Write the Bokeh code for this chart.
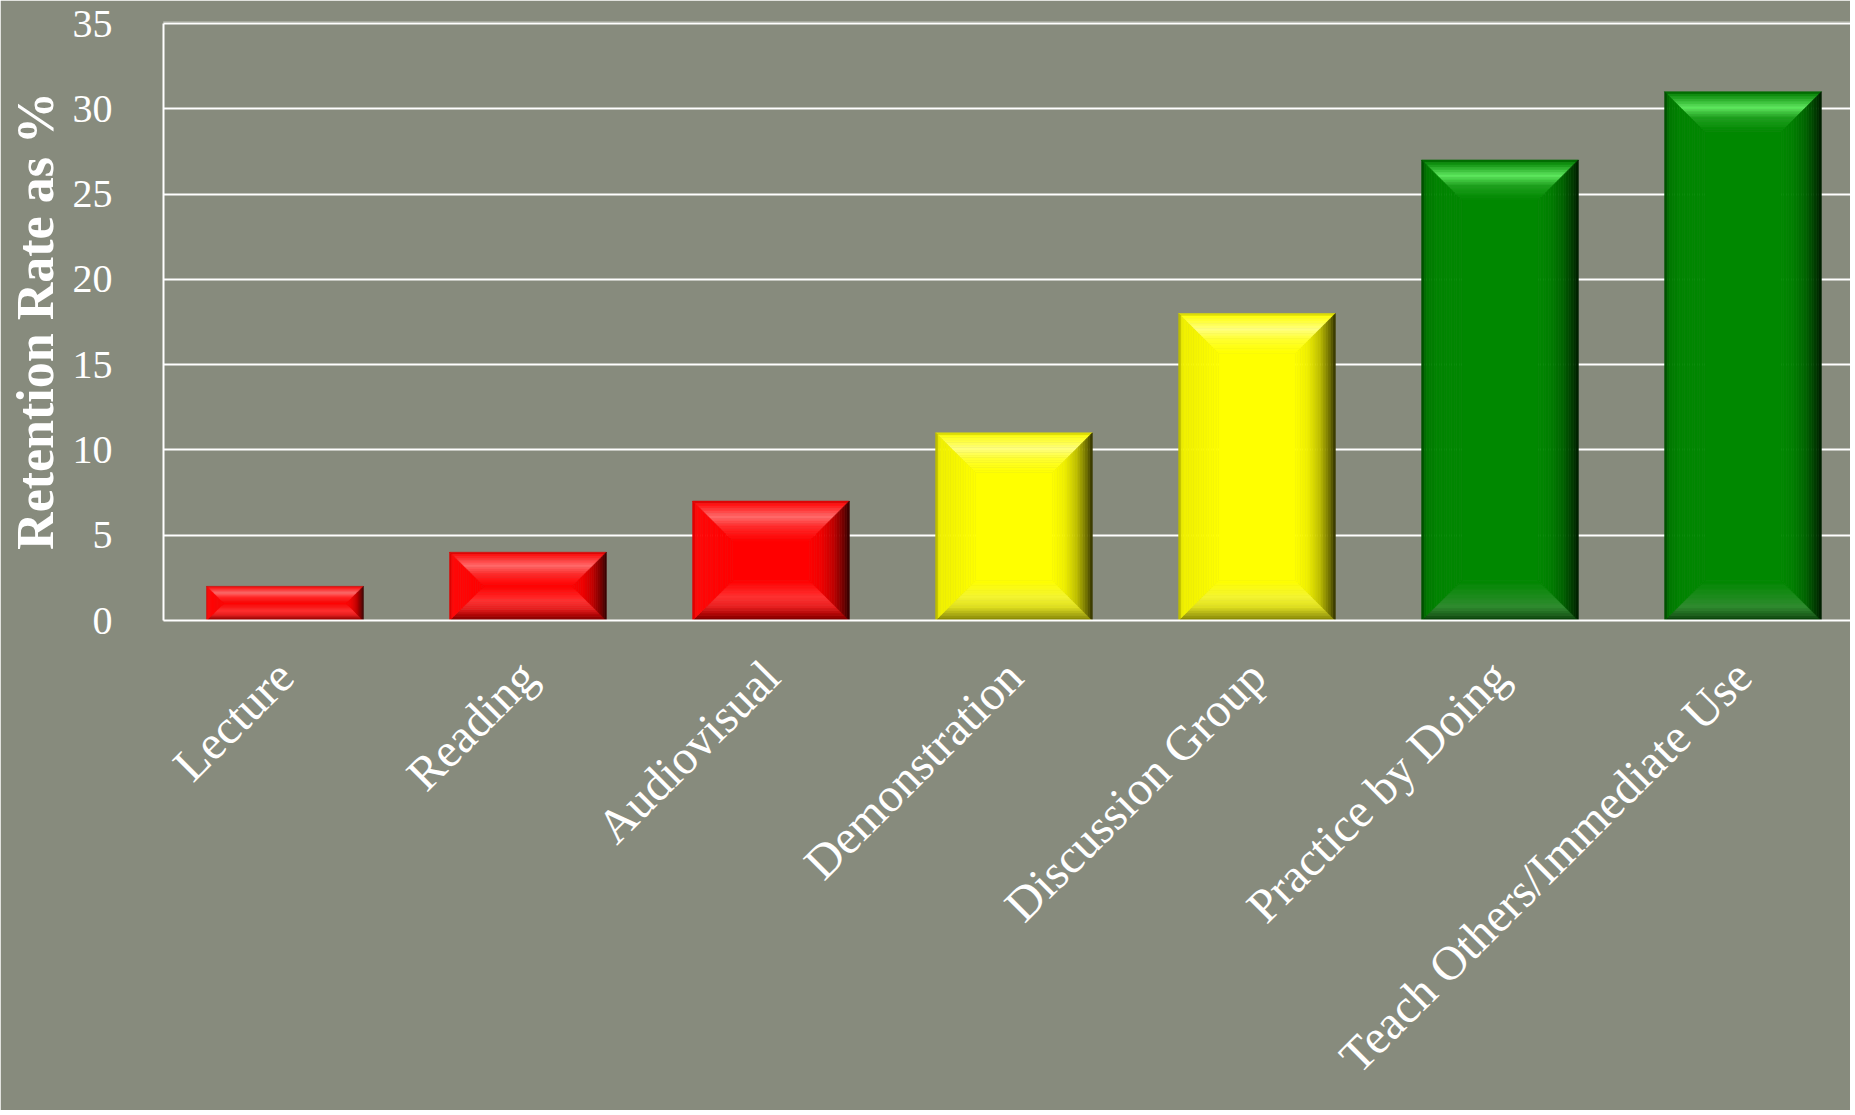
from bokeh.plotting import figure
from bokeh.models import Range1d, FixedTicker
from bokeh.embed import file_html
from bokeh.resources import INLINE
import math

# ---------------- data ----------------
categories = ["Lecture", "Reading", "Audiovisual", "Demonstration",
              "Discussion Group", "Practice by Doing", "Teach Others/Immediate Use"]
retention = [2, 4, 7, 11, 18, 27, 31]
tiers = ["red", "red", "red", "yellow", "yellow", "green", "green"]
y_ticks = [0, 5, 10, 15, 20, 25, 30, 35]
y_title = "Retention Rate as %"

# ---------------- styling / layout ----------------
BG = "#878b7d"
FONT = "Liberation Serif"
W, H = 1850, 1110
LEFT, TOP = 163, 21
FRAME_H = 599
BOTTOM = H - TOP - FRAME_H
frame_w = W - LEFT
SLOT = 243.0                     # px per category
PX_UNIT = 597.0 / 35.0           # px per percent
x_end = frame_w / SLOT
y_end = FRAME_H / PX_UNIT
BAR_W = 0.645
BEVEL = 40.0
NB = 16                          # gradient bands per bevel side

PALETTES = {
    "red": {
        "face": "#ff0000",
        "top": [(0, "#c80000"), (.08, "#ff1010"), (.4, "#ff6a6a"), (.65, "#ff2a2a"), (1, "#ff0000")],
        "bottom": [(0, "#700000"), (.12, "#a00000"), (.35, "#e82020"), (.6, "#ff3030"), (1, "#ff0000")],
        "left": [(0, "#d00000"), (.1, "#ff0808"), (1, "#ff0000")],
        "right": [(0, "#300000"), (.15, "#700000"), (.4, "#c00000"), (.7, "#f00000"), (1, "#ff0000")],
    },
    "yellow": {
        "face": "#ffff00",
        "top": [(0, "#c8c800"), (.08, "#ffff10"), (.4, "#ffff80"), (.65, "#ffff30"), (1, "#ffff00")],
        "bottom": [(0, "#808000"), (.12, "#a0a010"), (.35, "#e0e020"), (.6, "#f4f430"), (1, "#ffff00")],
        "left": [(0, "#a8a800"), (.1, "#f0f000"), (1, "#ffff00")],
        "right": [(0, "#303000"), (.15, "#707000"), (.4, "#c0c000"), (.7, "#f0f000"), (1, "#ffff00")],
    },
    "green": {
        "face": "#008800",
        "top": [(0, "#005a00"), (.08, "#0a8a0a"), (.4, "#5ee85e"), (.65, "#1ea01e"), (1, "#008800")],
        "bottom": [(0, "#003800"), (.12, "#1a5a1a"), (.35, "#2f8a2f"), (.6, "#1c8a1c"), (1, "#008800")],
        "left": [(0, "#004400"), (.12, "#007800"), (.4, "#008400"), (1, "#008800")],
        "right": [(0, "#001c00"), (.15, "#003a00"), (.4, "#006400"), (.7, "#007e00"), (1, "#008800")],
    },
}


def _rgb(h):
    return tuple(int(h[k:k + 2], 16) for k in (1, 3, 5))


def grad(stops, t):
    for (t0, c0), (t1, c1) in zip(stops[:-1], stops[1:]):
        if t <= t1:
            f = 0 if t1 == t0 else (t - t0) / (t1 - t0)
            a, b = _rgb(c0), _rgb(c1)
            return "#%02x%02x%02x" % tuple(round(a[k] + (b[k] - a[k]) * f) for k in range(3))
    return stops[-1][1]


p = figure(width=W, height=H,
           x_range=Range1d(0, x_end), y_range=Range1d(0, y_end),
           output_backend="svg", toolbar_location=None,
           min_border_left=LEFT, min_border_right=0,
           min_border_top=TOP, min_border_bottom=BOTTOM,
           background_fill_color=BG, border_fill_color=BG,
           outline_line_color=None)

# ---------------- bevelled bars ----------------
xs, ys, cols = [], [], []
for i, (v, tier) in enumerate(zip(retention, tiers)):
    pal = PALETTES[tier]
    c = i + 0.5
    hw = BAR_W / 2
    x0, x1, y0, y1 = c - hw, c + hw, 0.0, float(v)
    bev = min(BEVEL, v * PX_UNIT / 2, BAR_W * SLOT / 2)
    bx, by = bev / SLOT, bev / PX_UNIT
    xs.append([x0 + bx, x1 - bx, x1 - bx, x0 + bx])
    ys.append([y0 + by, y0 + by, y1 - by, y1 - by])
    cols.append(pal["face"])
    for k in range(NB):
        a, b = k / NB, (k + 1) / NB
        tm = (a + b) / 2
        # top
        xs.append([x0 + a * bx, x1 - a * bx, x1 - b * bx, x0 + b * bx])
        ys.append([y1 - a * by, y1 - a * by, y1 - b * by, y1 - b * by])
        cols.append(grad(pal["top"], tm))
        # bottom
        xs.append([x0 + a * bx, x1 - a * bx, x1 - b * bx, x0 + b * bx])
        ys.append([y0 + a * by, y0 + a * by, y0 + b * by, y0 + b * by])
        cols.append(grad(pal["bottom"], tm))
        # left
        xs.append([x0 + a * bx, x0 + a * bx, x0 + b * bx, x0 + b * bx])
        ys.append([y0 + a * by, y1 - a * by, y1 - b * by, y0 + b * by])
        cols.append(grad(pal["left"], tm))
        # right
        xs.append([x1 - a * bx, x1 - a * bx, x1 - b * bx, x1 - b * bx])
        ys.append([y0 + a * by, y1 - a * by, y1 - b * by, y0 + b * by])
        cols.append(grad(pal["right"], tm))

p.patches(xs=xs, ys=ys, fill_color=cols, line_color=cols, line_width=0.6)

# ---------------- axes & grid ----------------
p.xgrid.grid_line_color = None
p.ygrid.grid_line_color = "white"
p.ygrid.grid_line_width = 2
p.ygrid.ticker = FixedTicker(ticks=y_ticks)

yax = p.yaxis[0]
yax.ticker = FixedTicker(ticks=y_ticks)
yax.bounds = (y_ticks[0], y_ticks[-1])
yax.axis_line_color = "white"
yax.axis_line_width = 2
yax.major_tick_line_color = None
yax.minor_tick_line_color = None
yax.major_label_text_color = "white"
yax.major_label_text_font = FONT
yax.major_label_text_font_size = "40px"
yax.major_label_standoff = 45
yax.axis_label = y_title
yax.axis_label_text_color = "white"
yax.axis_label_text_font = FONT
yax.axis_label_text_font_style = "bold"
yax.axis_label_text_font_size = "52px"
yax.axis_label_standoff = 6

xax = p.xaxis[0]
x_pos = [i + 0.5 for i in range(len(categories))]
xax.ticker = FixedTicker(ticks=x_pos)
xax.major_label_overrides = {pos: lab for pos, lab in zip(x_pos, categories)}
xax.axis_line_color = "white"
xax.axis_line_width = 2
xax.major_tick_line_color = None
xax.minor_tick_line_color = None
xax.major_label_orientation = math.pi / 4
xax.major_label_text_color = "white"
xax.major_label_text_font = FONT
xax.major_label_text_font_size = "48px"
xax.major_label_standoff = 42

open("out.html", "w").write(file_html(p, INLINE))
